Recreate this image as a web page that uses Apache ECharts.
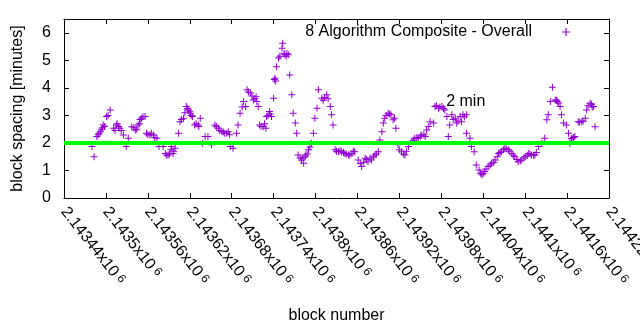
<!DOCTYPE html>
<html>
<head>
<meta charset="utf-8">
<script src="https://cdn.jsdelivr.net/npm/echarts@6/dist/echarts.min.js"></script>
<style>
  html, body { margin: 0; padding: 0; background: #fff; }
  #chart { width: 640px; height: 330px; }
</style>
</head>
<body>
<div id="chart"></div>
<script>
// Block numbers of the plotted samples
const blocks = [
  2143480, 2143483, 2143487, 2143492, 2143496, 2143501, 2143506, 2143511, 2143515, 2143520,
  2143525, 2143529, 2143532, 2143537, 2143542, 2143546, 2143551, 2143556, 2143558, 2143563,
  2143568, 2143573, 2143576, 2143582, 2143585, 2143589, 2143594, 2143596, 2143599, 2143604,
  2143606, 2143611, 2143615, 2143618, 2143621, 2143624, 2143627, 2143632, 2143635, 2143638,
  2143642, 2143646, 2143651, 2143656, 2143661, 2143666, 2143670, 2143675, 2143678, 2143682,
  2143687, 2143689, 2143692, 2143697, 2143700, 2143702, 2143707, 2143711, 2143715, 2143718,
  2143720, 2143725, 2143729, 2143730, 2143734, 2143737, 2143740, 2143742, 2143744, 2143747,
  2143752, 2143753, 2143756, 2143761, 2143763, 2143766, 2143768, 2143771, 2143773, 2143775,
  2143780, 2143783, 2143786, 2143790, 2143794, 2143797, 2143799, 2143802, 2143804, 2143809,
  2143816, 2143821, 2143823, 2143825, 2143828, 2143833, 2143837, 2143842, 2143847, 2143852,
  2143856, 2143861, 2143866, 2143871, 2143875, 2143880, 2143885, 2143890, 2143892, 2143895,
  2143897, 2143899, 2143904, 2143908, 2143911, 2143915, 2143918, 2143923, 2143928, 2143933,
  2143938, 2143942, 2143947, 2143952, 2143957, 2143959, 2143964, 2143969, 2143971, 2143976,
  2143981, 2143985, 2143988, 2143990, 2143992, 2143995, 2144000, 2144002, 2144007, 2144009,
  2144011, 2144016, 2144016, 2144021, 2144023, 2144027, 2144030, 2144034, 2144038, 2144042,
  2144047, 2144052, 2144057, 2144062, 2144066, 2144071, 2144076, 2144081, 2144085, 2144090,
  2144095, 2144100, 2144105, 2144109, 2144114, 2144119, 2144124, 2144128, 2144131, 2144133,
  2144136, 2144139, 2144143, 2144146, 2144150, 2144152, 2144155, 2144159, 2144162, 2144164,
  2144167, 2144171, 2144176, 2144181, 2144186, 2144188, 2144193, 2144198, 2144200
];

// Block spacing in minutes for each sample above
const spacing = [
  1.87, 1.50, 2.23, 2.41, 2.65, 2.96, 3.20, 2.53, 2.65, 2.53,
  2.29, 1.87, 2.17, 2.59, 2.47, 2.65, 2.90, 2.96, 2.35, 2.29,
  2.29, 2.17, 1.87, 1.87, 1.62, 1.56, 1.87, 1.62, 1.81, 2.35,
  2.77, 2.90, 3.32, 3.20, 3.08, 2.96, 2.65, 2.65, 2.90, 1.99,
  2.23, 2.23, 1.93, 2.65, 2.53, 2.41, 2.35, 2.41, 1.87, 1.81,
  2.35, 2.65, 3.08, 3.50, 3.32, 3.93, 3.81, 3.56, 3.68, 3.32,
  2.65, 2.59, 2.53, 2.96, 3.14, 2.96, 3.62, 4.35, 4.77, 5.08,
  5.44, 5.62, 5.20, 5.20, 4.47, 3.75, 3.08, 2.72, 2.35, 1.56,
  1.38, 1.26, 1.56, 1.75, 1.99, 2.35, 2.90, 3.26, 3.93, 3.62,
  3.75, 3.32, 3.02, 2.65, 1.75, 1.68, 1.68, 1.62, 1.56, 1.62,
  1.68, 1.38, 1.14, 1.44, 1.32, 1.38, 1.56, 1.68, 2.11, 2.41,
  2.72, 2.90, 3.08, 3.02, 2.84, 2.53, 1.93, 1.68, 1.56, 1.87,
  2.05, 2.17, 2.17, 2.29, 2.23, 2.47, 2.77, 2.72, 3.32, 3.26,
  3.32, 3.20, 2.96, 2.23, 2.65, 3.02, 2.90, 2.72, 2.96, 2.77,
  3.02, 3.02, 2.35, 2.17, 1.87, 1.68, 1.20, 1.02, 0.84, 0.96,
  1.14, 1.26, 1.38, 1.62, 1.68, 1.81, 1.75, 1.62, 1.50, 1.32,
  1.38, 1.50, 1.62, 1.56, 1.56, 1.87, 1.99, 2.17, 2.84, 3.02,
  3.50, 4.02, 3.56, 3.50, 3.32, 3.02, 2.72, 2.65, 2.35, 1.99,
  2.17, 2.23, 2.77, 2.77, 2.90, 3.20, 3.44, 3.32, 2.59
];

// Further samples inside the dense clusters
const blocksDense = [
  2143489, 2143490, 2143494, 2143495, 2143498, 2143503, 2143513, 2143516, 2143518, 2143522,
  2143540, 2143544, 2143548, 2143549, 2143553, 2143560, 2143565, 2143570, 2143587, 2143591,
  2143593, 2143597, 2143608, 2143613, 2143617, 2143620, 2143622, 2143629, 2143633, 2143658,
  2143663, 2143668, 2143673, 2143677, 2143695, 2143704, 2143709, 2143713, 2143716, 2143722,
  2143727, 2143732, 2143735, 2143741, 2143743, 2143749, 2143755, 2143758, 2143759, 2143778,
  2143782, 2143785, 2143788, 2143792, 2143811, 2143813, 2143818, 2143830, 2143835, 2143840,
  2143844, 2143849, 2143854, 2143864, 2143869, 2143873, 2143878, 2143883, 2143887, 2143901,
  2143906, 2143913, 2143920, 2143926, 2143930, 2143940, 2143945, 2143950, 2143955, 2143962,
  2143973, 2143978, 2143983, 2143997, 2144004, 2144013, 2144036, 2144040, 2144044, 2144050,
  2144055, 2144060, 2144064, 2144069, 2144073, 2144078, 2144083, 2144088, 2144093, 2144098,
  2144103, 2144107, 2144112, 2144116, 2144145, 2144148, 2144166, 2144169, 2144178, 2144183,
  2144190, 2144195, 2144196
];
const spacingDense = [
  2.30, 2.35, 2.50, 2.55, 2.60, 3.00, 2.45, 2.70, 2.60, 2.45,
  2.55, 2.50, 2.70, 2.85, 2.95, 2.30, 2.35, 2.20, 1.55, 1.60,
  1.75, 1.70, 2.85, 3.10, 3.25, 3.15, 3.00, 2.70, 2.60, 2.60,
  2.45, 2.40, 2.35, 2.30, 3.30, 3.85, 3.70, 3.60, 3.50, 2.60,
  2.70, 3.00, 3.05, 4.30, 4.25, 5.15, 5.25, 5.15, 5.25, 1.45,
  1.45, 1.50, 1.60, 1.85, 3.55, 3.65, 3.60, 1.70, 1.72, 1.65,
  1.60, 1.55, 1.70, 1.25, 1.30, 1.40, 1.45, 1.50, 1.60, 3.00,
  3.05, 2.90, 1.75, 1.60, 1.70, 2.10, 2.20, 2.25, 2.30, 2.60,
  3.35, 3.30, 3.25, 2.85, 2.80, 2.95, 0.90, 0.88, 1.05, 1.20,
  1.30, 1.50, 1.65, 1.75, 1.78, 1.70, 1.55, 1.40, 1.35, 1.45,
  1.55, 1.60, 1.55, 1.65, 3.55, 3.45, 2.15, 2.20, 2.75, 2.80,
  3.35, 3.40, 3.30
];

// Target block spacing reference line
const targetMinutes = 2;

// X axis range and tick step (block numbers)
const xMin = 2143440;
const xMax = 2144220;
const xStep = 60;
// Mantissas shown on the x tick labels (value = mantissa x 10^6)
const xTickMantissa = [
  '2.14344', '2.1435', '2.14356', '2.14362', '2.14368', '2.14374', '2.1438',
  '2.14386', '2.14392', '2.14398', '2.14404', '2.1441', '2.14416', '2.14422'
];

// Y axis range and ticks
const yMin = 0;
const yMax = 6.5;
const yTicks = [0, 1, 2, 3, 4, 5, 6];

const seriesName = '8 Algorithm Composite - Overall';
const targetLabel = '2 min';
const targetLabelAt = [2143987, 3.5];

const FONT = '"Liberation Sans", Arial, sans-serif';
const PLUS = 'path://M3,0h1v3h3v1h-3v3h-1v-3h-3v-1h3z';
const xTickValues = xTickMantissa.map((m, i) => xMin + i * xStep);

const chart = echarts.init(document.getElementById('chart'), null, { renderer: 'canvas' });

const points = blocks.map((b, i) => [b, spacing[i]])
  .concat(blocksDense.map((b, i) => [b, spacingDense[i]]));

const option = {
  animation: false,
  backgroundColor: '#ffffff',
  textStyle: { fontFamily: FONT },
  grid: { left: 64, right: 31, top: 19, bottom: 132, containLabel: false, outerBoundsMode: 'none' },
  legend: {
    right: 70,
    top: 23,
    padding: 0,
    align: 'right',
    itemWidth: 8,
    itemHeight: 8,
    icon: PLUS,
    data: [seriesName],
    textStyle: {
      fontFamily: FONT, fontSize: 16, color: '#000', lineHeight: 18,
      padding: [0, 25, 0, 0]
    }
  },
  xAxis: [
    {
      type: 'value',
      min: xMin, max: xMax, interval: xStep,
      name: 'block number',
      nameLocation: 'middle',
      nameGap: 110,
      nameTextStyle: { fontFamily: FONT, fontSize: 16, color: '#000' },
      splitLine: { show: false },
      axisLine: { onZero: false, lineStyle: { color: '#000', width: 1 } },
      axisTick: { inside: true, length: 5, lineStyle: { color: '#000' }, customValues: xTickValues },
      axisLabel: {
        customValues: xTickValues,
        hideOverlap: false,
        rotate: -52,
        margin: 11,
        color: '#000',
        fontFamily: FONT,
        fontSize: 16,
        formatter: function (v) {
          const i = Math.round((v - xMin) / xStep);
          return '{m|' + xTickMantissa[i] + 'x10}{e| 6}';
        },
        rich: {
          m: { fontFamily: FONT, fontSize: 16, color: '#000' },
          e: { fontFamily: FONT, fontSize: 12, color: '#000', verticalAlign: 'top' }
        }
      }
    },
    {
      type: 'value',
      position: 'top',
      min: xMin, max: xMax, interval: xStep,
      splitLine: { show: false },
      axisLine: { onZero: false, lineStyle: { color: '#000', width: 1 } },
      axisTick: { inside: true, length: 5, lineStyle: { color: '#000' }, customValues: xTickValues },
      axisLabel: { show: false }
    }
  ],
  yAxis: [
    {
      type: 'value',
      min: yMin, max: yMax,
      name: 'block spacing [minutes]',
      nameLocation: 'middle',
      nameGap: 38,
      nameTextStyle: { fontFamily: FONT, fontSize: 16, color: '#000' },
      splitLine: { show: false },
      axisLine: { onZero: false, lineStyle: { color: '#000', width: 1 } },
      axisTick: { inside: true, length: 5, lineStyle: { color: '#000' }, customValues: yTicks },
      axisLabel: {
        customValues: yTicks,
        margin: 13,
        color: '#000',
        fontFamily: FONT,
        fontSize: 16
      }
    },
    {
      type: 'value',
      position: 'right',
      min: yMin, max: yMax,
      splitLine: { show: false },
      axisLine: { onZero: false, lineStyle: { color: '#000', width: 1 } },
      axisTick: { inside: true, length: 5, lineStyle: { color: '#000' }, customValues: yTicks },
      axisLabel: { show: false }
    }
  ],
  series: [
    {
      name: seriesName,
      type: 'scatter',
      symbol: PLUS,
      symbolSize: 7,
      itemStyle: { color: '#9400d3', opacity: 1 },
      data: points,
      z: 2
    },
    {
      name: 'target',
      type: 'line',
      data: [[xMin, targetMinutes], [xMax, targetMinutes]],
      symbol: 'none',
      lineStyle: { color: '#00ff00', width: 4 },
      silent: true,
      z: 3,
      markPoint: {
        symbol: 'circle',
        symbolSize: 0,
        data: [{ coord: targetLabelAt }],
        label: {
          show: true,
          position: 'right',
          distance: 0,
          formatter: targetLabel,
          fontFamily: FONT,
          fontSize: 16,
          color: '#000'
        }
      }
    }
  ]
};

chart.setOption(option);
</script>
</body>
</html>
